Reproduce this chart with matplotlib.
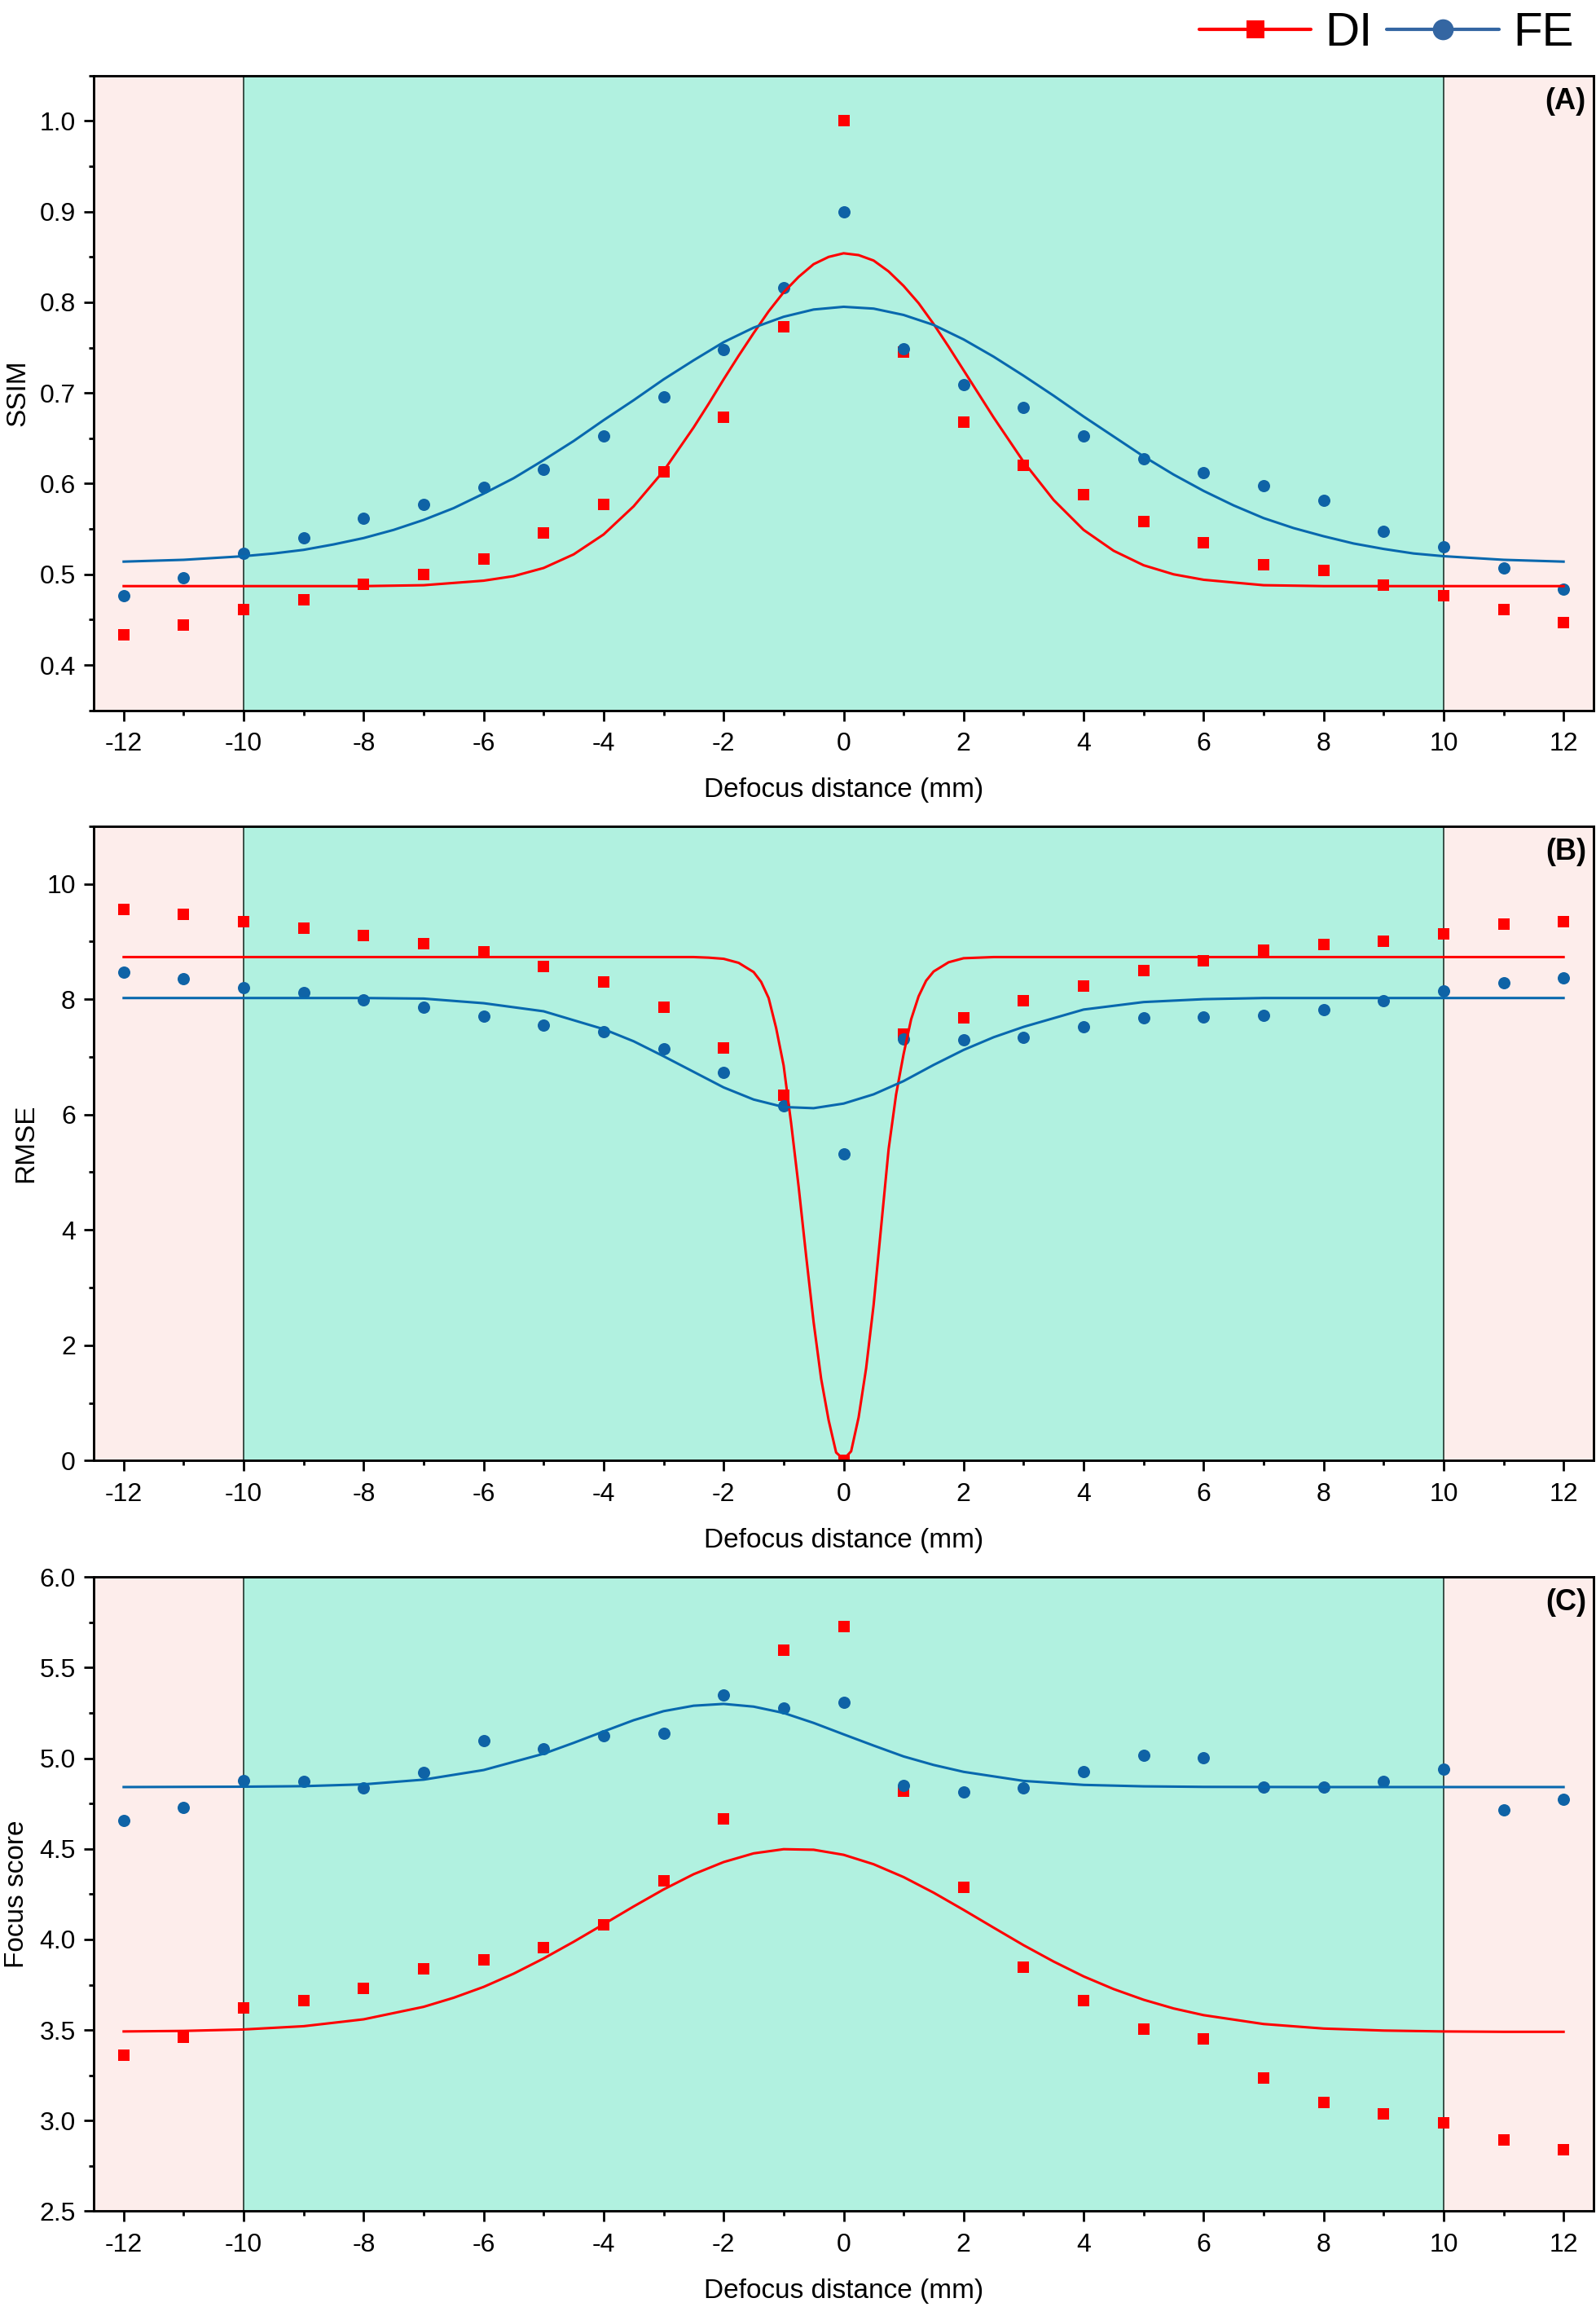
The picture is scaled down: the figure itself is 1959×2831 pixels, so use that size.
import matplotlib
matplotlib.use("Agg")
import matplotlib.pyplot as plt
from matplotlib.lines import Line2D
from matplotlib.ticker import MultipleLocator, FormatStrFormatter

plt.rcParams['font.family'] = ['Liberation Sans', 'DejaVu Sans']
plt.rcParams['axes.unicode_minus'] = False

# ---------------- data ----------------
defocus = list(range(-12, 13))
zone_edges = [-10, 10]

ssim_di = [0.433, 0.444, 0.461, 0.472, 0.489, 0.500, 0.517, 0.546, 0.577, 0.613,
           0.673, 0.773, 1.000, 0.745, 0.668, 0.620, 0.588, 0.558, 0.535, 0.511,
           0.504, 0.488, 0.476, 0.461, 0.447]
ssim_fe = [0.476, 0.496, 0.523, 0.540, 0.562, 0.577, 0.596, 0.616, 0.653, 0.696,
           0.748, 0.816, 0.900, 0.749, 0.709, 0.684, 0.653, 0.627, 0.612, 0.598,
           0.582, 0.547, 0.530, 0.507, 0.484]

rmse_di = [9.556, 9.476, 9.346, 9.224, 9.109, 8.964, 8.828, 8.568, 8.302, 7.862,
           7.156, 6.334, 0.000, 7.393, 7.682, 7.970, 8.229, 8.496, 8.662, 8.856,
           8.950, 9.008, 9.130, 9.303, 9.346]
rmse_fe = [8.467, 8.359, 8.201, 8.121, 7.992, 7.862, 7.703, 7.545, 7.437, 7.141,
           6.731, 6.154, 5.311, 7.307, 7.300, 7.343, 7.516, 7.682, 7.689, 7.718,
           7.812, 7.970, 8.136, 8.280, 8.366]

focus_di = [3.363, 3.459, 3.620, 3.661, 3.730, 3.836, 3.889, 3.955, 4.081, 4.325,
            4.667, 5.598, 5.725, 4.818, 4.286, 3.845, 3.664, 3.503, 3.452, 3.234,
            3.101, 3.039, 2.987, 2.895, 2.840]
focus_fe = [4.657, 4.729, 4.875, 4.871, 4.836, 4.921, 5.096, 5.050, 5.126, 5.139,
            5.351, 5.277, 5.309, 4.850, 4.814, 4.836, 4.928, 5.018, 5.004, 4.843,
            4.843, 4.871, 4.942, 4.717, 4.772]

# fitted curves
ssim_di_fit_x = [-12, -10, -8, -7, -6, -5.5, -5, -4.5, -4, -3.5, -3, -2.5, -2.25, -2,
                 -1.75, -1.5, -1.25, -1, -0.75, -0.5, -0.25, 0, 0.25, 0.5, 0.75, 1,
                 1.25, 1.5, 1.75, 2, 2.25, 2.5, 3, 3.5, 4, 4.5, 5, 5.5, 6, 7, 8, 10, 12]
ssim_di_fit = [0.487, 0.487, 0.487, 0.488, 0.493, 0.498, 0.507, 0.522, 0.544, 0.575,
               0.614, 0.662, 0.688, 0.715, 0.741, 0.766, 0.790, 0.811, 0.828, 0.842,
               0.850, 0.854, 0.852, 0.846, 0.834, 0.818, 0.799, 0.776, 0.751, 0.725,
               0.699, 0.673, 0.624, 0.582, 0.549, 0.526, 0.510, 0.500, 0.494, 0.488,
               0.487, 0.487, 0.487]
ssim_fe_fit_x = [-12, -11.5, -11, -10.5, -10, -9.5, -9, -8.5, -8, -7.5, -7, -6.5, -6,
                 -5.5, -5, -4.5, -4, -3.5, -3, -2.5, -2, -1.5, -1, -0.5, 0, 0.5, 1,
                 1.5, 2, 2.5, 3, 3.5, 4, 4.5, 5, 5.5, 6, 6.5, 7, 7.5, 8, 8.5, 9, 9.5,
                 10, 10.5, 11, 11.5, 12]
ssim_fe_fit = [0.514, 0.515, 0.516, 0.518, 0.520, 0.523, 0.527, 0.533, 0.540, 0.549,
               0.560, 0.573, 0.589, 0.606, 0.626, 0.647, 0.670, 0.692, 0.715, 0.736,
               0.756, 0.772, 0.784, 0.792, 0.795, 0.793, 0.786, 0.775, 0.759, 0.740,
               0.719, 0.697, 0.674, 0.652, 0.630, 0.610, 0.592, 0.576, 0.562, 0.551,
               0.542, 0.534, 0.528, 0.523, 0.520, 0.518, 0.516, 0.515, 0.514]

rmse_di_fit_x = [-12, -10, -8, -6, -4, -3, -2.5, -2.25, -2, -1.75, -1.5, -1.375, -1.25,
                 -1.125, -1, -0.875, -0.75, -0.625, -0.5, -0.375, -0.25, -0.125, 0,
                 0.125, 0.25, 0.375, 0.5, 0.625, 0.75, 0.875, 1, 1.125, 1.25, 1.375,
                 1.5, 1.75, 2, 2.25, 2.5, 3, 4, 6, 8, 10, 12]
rmse_di_fit = [8.73, 8.73, 8.73, 8.73, 8.73, 8.73, 8.73, 8.72, 8.70, 8.63, 8.47, 8.30,
               8.02, 7.50, 6.85, 5.85, 4.75, 3.55, 2.40, 1.42, 0.70, 0.14, 0.02,
               0.16, 0.75, 1.60, 2.70, 4.05, 5.40, 6.35, 7.05, 7.65, 8.05, 8.32,
               8.48, 8.64, 8.71, 8.72, 8.73, 8.73, 8.73, 8.73, 8.73, 8.73, 8.73]
rmse_fe_fit_x = [-12, -10, -8, -7, -6, -5, -4, -3.5, -3, -2.5, -2, -1.5, -1, -0.5, 0,
                 0.5, 1, 1.5, 2, 2.5, 3, 4, 5, 6, 7, 8, 10, 12]
rmse_fe_fit = [8.02, 8.02, 8.02, 8.01, 7.93, 7.79, 7.48, 7.27, 7.01, 6.74, 6.47, 6.26,
               6.13, 6.11, 6.19, 6.35, 6.58, 6.86, 7.12, 7.34, 7.52, 7.82, 7.95, 8.00,
               8.02, 8.02, 8.02, 8.02]

focus_di_fit_x = [-12, -11, -10, -9, -8, -7, -6.5, -6, -5.5, -5, -4.5, -4, -3.5, -3,
                  -2.5, -2, -1.5, -1, -0.5, 0, 0.5, 1, 1.5, 2, 2.5, 3, 3.5, 4, 4.5, 5,
                  5.5, 6, 7, 8, 9, 10, 11, 12]
focus_di_fit = [3.492, 3.495, 3.503, 3.521, 3.559, 3.628, 3.678, 3.738, 3.811, 3.895,
                3.987, 4.084, 4.182, 4.276, 4.360, 4.427, 4.475, 4.498, 4.495, 4.467,
                4.415, 4.344, 4.258, 4.163, 4.065, 3.968, 3.878, 3.796, 3.726, 3.667,
                3.619, 3.582, 3.533, 3.508, 3.497, 3.492, 3.490, 3.490]
focus_fe_fit_x = [-12, -10, -9, -8, -7, -6, -5, -4.5, -4, -3.5, -3, -2.5, -2, -1.5, -1,
                  -0.5, 0, 0.5, 1, 1.5, 2, 3, 4, 5, 6, 8, 10, 12]
focus_fe_fit = [4.841, 4.843, 4.846, 4.856, 4.882, 4.935, 5.025, 5.085, 5.148, 5.210,
                5.260, 5.290, 5.300, 5.285, 5.250, 5.195, 5.132, 5.070, 5.010, 4.963,
                4.925, 4.875, 4.853, 4.845, 4.842, 4.841, 4.841, 4.841]

series_names = ['DI', 'FE']
panel_tags = ['(A)', '(B)', '(C)']
y_labels = ['SSIM', 'RMSE', 'Focus score']
x_label = 'Defocus distance (mm)'

# ---------------- styling ----------------
RED = '#FF0000'
BLUE_M = '#0F63A6'
BLUE_L = '#0868AE'
BLUE_LEG = '#3466A2'
PINK = '#FDEDEB'
TEAL = '#B1F1E0'

fig = plt.figure(figsize=(19.59, 28.31), dpi=100)
W, H = 1959.0, 2831.0
left_px, right_px = 115.0, 1956.0
panel_px = [(92.7, 871.7), (1013.8, 1792.3), (1935.3, 2713.4)]

panels = [
    dict(di=ssim_di, fe=ssim_fe, dfx=ssim_di_fit_x, dfy=ssim_di_fit,
         ffx=ssim_fe_fit_x, ffy=ssim_fe_fit, ylim=(0.35, 1.05), major=0.1,
         minor=0.05, fmt='%.1f', ylab_x=-0.042),
    dict(di=rmse_di, fe=rmse_fe, dfx=rmse_di_fit_x, dfy=rmse_di_fit,
         ffx=rmse_fe_fit_x, ffy=rmse_fe_fit, ylim=(0, 11), major=2,
         minor=1, fmt='%d', ylab_x=-0.037),
    dict(di=focus_di, fe=focus_fe, dfx=focus_di_fit_x, dfy=focus_di_fit,
         ffx=focus_fe_fit_x, ffy=focus_fe_fit, ylim=(2.5, 6.0), major=0.5,
         minor=0.25, fmt='%.1f', ylab_x=-0.043),
]

for i, p in enumerate(panels):
    top, bot = panel_px[i]
    ax = fig.add_axes([left_px / W, 1 - bot / H, (right_px - left_px) / W, (bot - top) / H])
    xmin, xmax = -12.5, 12.5
    ax.axvspan(xmin, zone_edges[0], color=PINK, lw=0, zorder=0)
    ax.axvspan(zone_edges[0], zone_edges[1], color=TEAL, lw=0, zorder=0)
    ax.axvspan(zone_edges[1], xmax, color=PINK, lw=0, zorder=0)
    for e in zone_edges:
        ax.axvline(e, color='#10221c', lw=1.1, zorder=1)

    ax.plot(defocus, p['di'], linestyle='none', marker='s', ms=9.6, mew=0,
            color=RED, zorder=3)
    ax.plot(defocus, p['fe'], linestyle='none', marker='o', ms=10.8, mew=0,
            color=BLUE_M, zorder=3)
    ax.plot(p['dfx'], p['dfy'], '-', color=RED, lw=2.2, zorder=4,
            solid_joinstyle='round')
    ax.plot(p['ffx'], p['ffy'], '-', color=BLUE_L, lw=2.2, zorder=4,
            solid_joinstyle='round')

    ax.set_xlim(xmin, xmax)
    ax.set_ylim(*p['ylim'])
    ax.xaxis.set_major_locator(MultipleLocator(2))
    ax.xaxis.set_minor_locator(MultipleLocator(1))
    ax.yaxis.set_major_locator(MultipleLocator(p['major']))
    ax.yaxis.set_minor_locator(MultipleLocator(p['minor']))
    ax.yaxis.set_major_formatter(FormatStrFormatter(p['fmt']))
    ax.xaxis.set_major_formatter(FormatStrFormatter('%d'))

    for s in ax.spines.values():
        s.set_linewidth(2.1)
        s.set_zorder(5)
    ax.tick_params(axis='both', which='major', direction='out', length=9, width=2.0,
                   labelsize=23, top=False, right=False)
    ax.tick_params(axis='both', which='minor', direction='out', length=4, width=2.0,
                   top=False, right=False)
    ax.tick_params(axis='x', which='major', pad=10)
    ax.tick_params(axis='y', which='major', pad=7)

    ax.set_xlabel(x_label, fontsize=24, labelpad=19)
    ax.set_ylabel(y_labels[i], fontsize=24)
    ax.yaxis.set_label_coords(p['ylab_x'], 0.5)

    ax.text(0.995, 0.982, panel_tags[i], transform=ax.transAxes, ha='right', va='top',
            fontsize=26, fontweight='bold', zorder=6)

handles = [
    Line2D([], [], color=RED, lw=3.0, marker='s', ms=16.5, mew=0, solid_capstyle='round'),
    Line2D([], [], color=BLUE_LEG, lw=3.0, marker='o', ms=18.5, mew=0, solid_capstyle='round'),
]
fig.legend(handles, series_names, loc='center right', bbox_to_anchor=(0.986, 0.9855),
           ncol=2, frameon=False, fontsize=42, handlelength=2.35, handletextpad=0.3,
           columnspacing=0.3, borderpad=0, borderaxespad=0)

fig.savefig('out.png', dpi=100)
